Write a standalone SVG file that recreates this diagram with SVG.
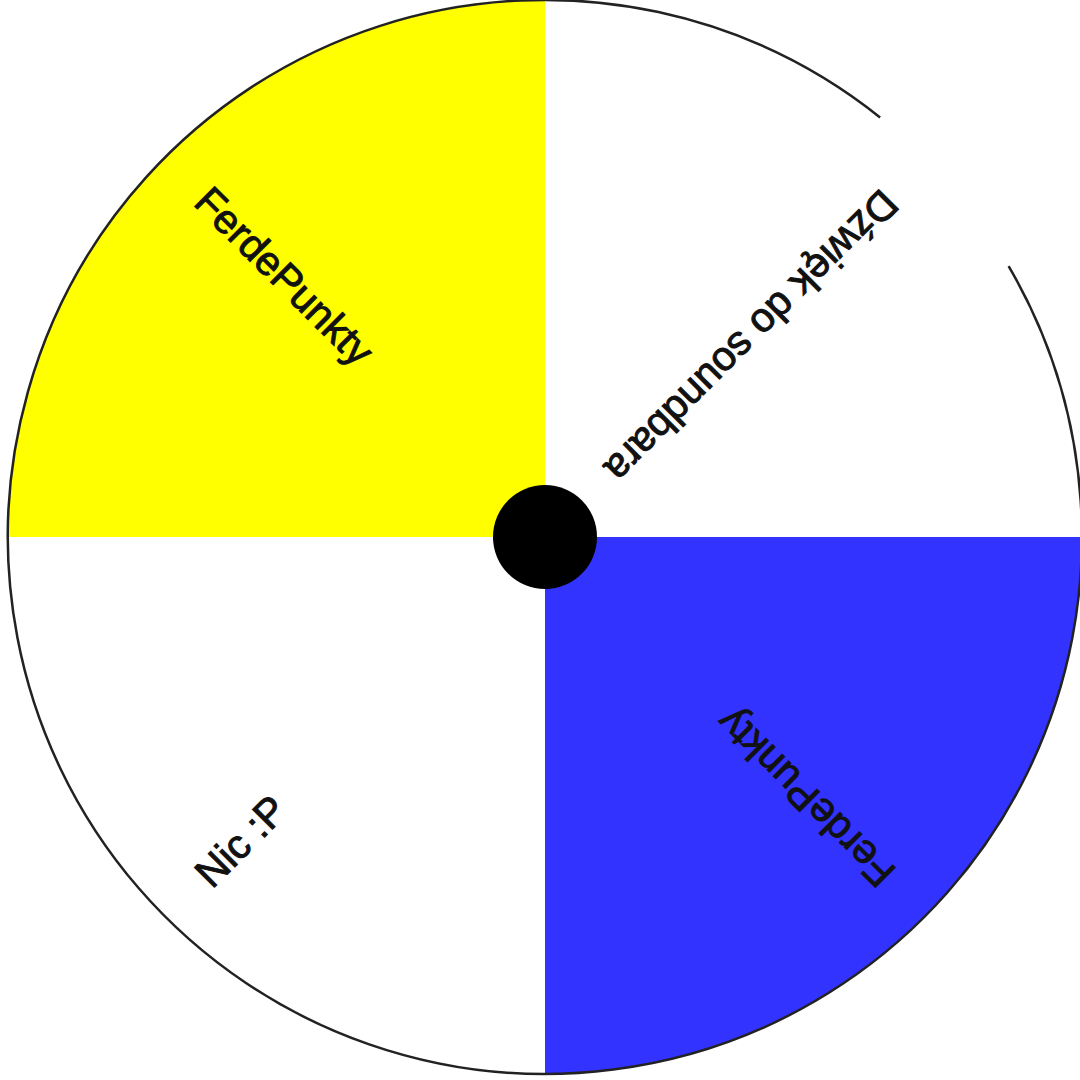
<svg xmlns="http://www.w3.org/2000/svg" width="1080" height="1080" viewBox="0 0 1080 1080">
  <style>
    .lbl { font-family: "Liberation Sans", Arial, sans-serif; font-size: 41px; fill: #111; dominant-baseline: central; stroke: #111; stroke-width: 1; }
    .rim { fill: none; stroke: #222; stroke-width: 2.5; }
  </style>
  <rect width="1080" height="1080" fill="#ffffff"/>
  <g id="wheel">
    <g id="seg-yellow">
      <path d="M545,537 L8,537 A537,537 0 0 1 545,0 Z" fill="#ffff00"/>
      <text class="lbl" transform="translate(545,537) rotate(45)" x="-485" y="0">FerdePunkty</text>
    </g>
    <g id="seg-white-top">
      <path d="M545,537 L545,0 A537,537 0 0 1 1082,537 Z" fill="#ffffff"/>
      <text class="lbl" transform="translate(545,537) rotate(135)" x="-485" y="-4">Dźwięk do soundbara</text>
    </g>
    <g id="seg-blue">
      <path d="M545,537 L1082,537 A537,537 0 0 1 545,1074 Z" fill="#3333ff"/>
      <text class="lbl" transform="translate(545,537) rotate(225)" x="-485" y="0">FerdePunkty</text>
    </g>
    <g id="seg-white-bottom">
      <path d="M545,537 L545,1074 A537,537 0 0 1 8,537 Z" fill="#ffffff"/>
      <text class="lbl" transform="translate(545,537) rotate(-45)" x="-485" y="0">Nic :P</text>
    </g>
    <path id="rim" class="rim" d="M1008.6,266.1 A537,537 0 1 1 880.1,117.4"/>
    <circle id="hub" cx="545" cy="537" r="52" fill="#000000"/>
  </g>
</svg>
